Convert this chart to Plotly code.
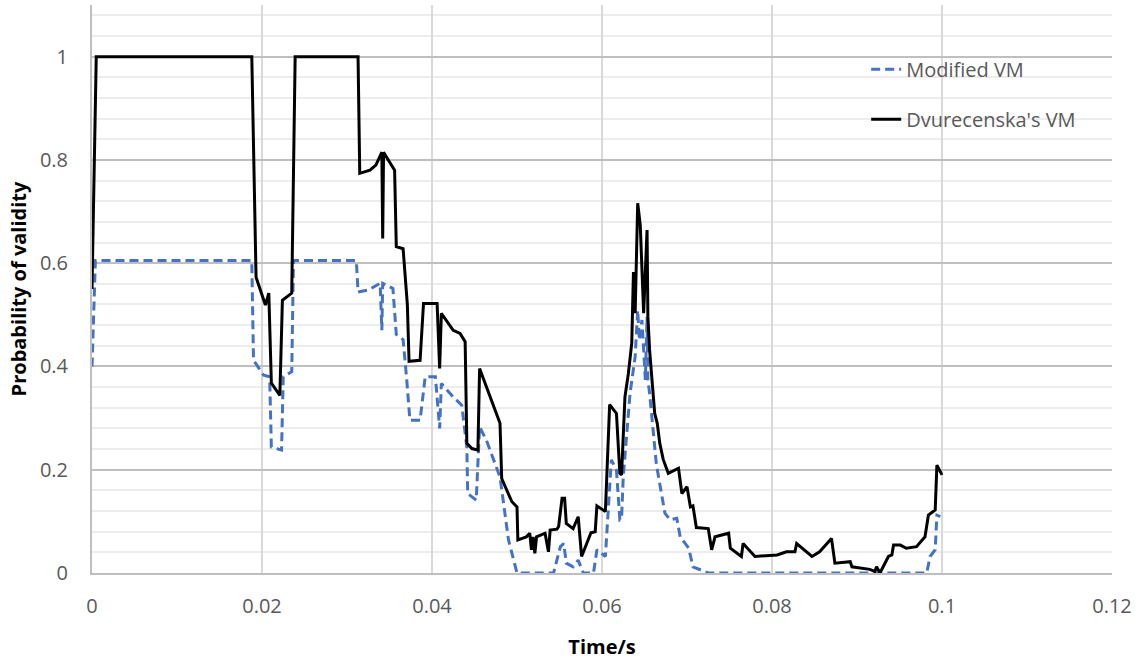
import plotly.graph_objects as go

# Dvurecenska's VM (solid black)
dv_t = [0.0, 0.0005, 0.0188, 0.0193, 0.0204, 0.0208, 0.0211, 0.0221, 0.0224, 0.0235,
        0.0239, 0.0313, 0.0315, 0.0327, 0.0334, 0.0341, 0.0342, 0.0343, 0.0356, 0.0358,
        0.0366, 0.0371, 0.0373, 0.0386, 0.0390, 0.0406, 0.0409, 0.0411, 0.0425, 0.0433,
        0.0439, 0.0441, 0.0447, 0.0454, 0.0456, 0.0466, 0.0480, 0.0482, 0.0494, 0.0500,
        0.0501, 0.0511, 0.0515, 0.0517, 0.0519, 0.0521, 0.0523, 0.0533, 0.0537, 0.0539,
        0.0547, 0.0549, 0.0553, 0.0556, 0.0558, 0.0566, 0.0572, 0.0576, 0.0587, 0.0592,
        0.0594, 0.0604, 0.0609, 0.0617, 0.0621, 0.0623, 0.0627, 0.0631, 0.0635, 0.0637,
        0.0639, 0.0642, 0.0645, 0.0649, 0.0653, 0.0654, 0.0656, 0.0659, 0.0662, 0.0665,
        0.0668, 0.0672, 0.0678, 0.0690, 0.0694, 0.0700, 0.0704, 0.0707, 0.0711, 0.0725,
        0.0729, 0.0733, 0.0749, 0.0751, 0.0764, 0.0766, 0.0780, 0.0806, 0.0817, 0.0827,
        0.0829, 0.0847, 0.0856, 0.0870, 0.0874, 0.0892, 0.0894, 0.0915, 0.0921, 0.0923,
        0.0927, 0.0937, 0.0941, 0.0943, 0.0951, 0.0958, 0.0970, 0.0980, 0.0984, 0.0992,
        0.0994, 0.1000]
dv_p = [0.55, 1.0, 1.0, 0.573, 0.519, 0.542, 0.368, 0.344, 0.528, 0.542,
        1.0, 1.0, 0.774, 0.78, 0.79, 0.815, 0.648, 0.815, 0.78, 0.632,
        0.628, 0.52, 0.41, 0.412, 0.522, 0.522, 0.396, 0.503, 0.47, 0.464,
        0.448, 0.251, 0.241, 0.238, 0.396, 0.351, 0.29, 0.183, 0.138, 0.128,
        0.064, 0.07, 0.077, 0.045, 0.07, 0.038, 0.07, 0.077, 0.041, 0.083,
        0.085, 0.09, 0.145, 0.145, 0.096, 0.086, 0.109, 0.032, 0.078, 0.08,
        0.13, 0.119, 0.326, 0.309, 0.193, 0.19, 0.341, 0.386, 0.445, 0.583,
        0.503, 0.716, 0.674, 0.503, 0.664, 0.496, 0.432, 0.37, 0.309, 0.29,
        0.251, 0.22, 0.193, 0.203, 0.154, 0.167, 0.128, 0.13, 0.088, 0.086,
        0.045, 0.07, 0.077, 0.048, 0.032, 0.057, 0.032, 0.035, 0.041, 0.041,
        0.057, 0.032, 0.041, 0.067, 0.019, 0.022, 0.012, 0.007, 0.003, 0.012,
        0.0, 0.032, 0.035, 0.054, 0.054, 0.048, 0.051, 0.07, 0.112, 0.122,
        0.209, 0.19]

# Modified VM (dashed blue)
mv_t = [0.0, 0.0004, 0.0188, 0.0190, 0.0202, 0.0209, 0.0211, 0.0223, 0.0225, 0.0235,
        0.0237, 0.0311, 0.0313, 0.0325, 0.0339, 0.0341, 0.0342, 0.0354, 0.0358, 0.0366,
        0.0370, 0.0374, 0.0386, 0.0392, 0.0404, 0.0409, 0.0411, 0.0425, 0.0435, 0.0441,
        0.0442, 0.0452, 0.0456, 0.0464, 0.0480, 0.0490, 0.0500, 0.0543, 0.0551, 0.0555,
        0.0558, 0.0566, 0.0572, 0.0578, 0.0590, 0.0594, 0.0604, 0.0607, 0.0611, 0.0617,
        0.0621, 0.0623, 0.0625, 0.0633, 0.0639, 0.0642, 0.0644, 0.0647, 0.0651, 0.0653,
        0.0654, 0.0656, 0.0664, 0.0674, 0.0680, 0.0688, 0.0692, 0.0702, 0.0707, 0.0725,
        0.0982, 0.0986, 0.0992, 0.0994, 0.0998]
mv_p = [0.40, 0.605, 0.605, 0.412, 0.383, 0.38, 0.244, 0.238, 0.38, 0.39,
        0.605, 0.605, 0.544, 0.548, 0.561, 0.47, 0.561, 0.551, 0.462, 0.452,
        0.38, 0.296, 0.296, 0.38, 0.38, 0.28, 0.367, 0.341, 0.325, 0.244,
        0.154, 0.141, 0.283, 0.257, 0.186, 0.064, 0.0, 0.0, 0.051, 0.057,
        0.019, 0.012, 0.025, 0.0, 0.0, 0.045, 0.032, 0.116, 0.219, 0.199,
        0.103, 0.105, 0.186, 0.348, 0.419, 0.509, 0.451, 0.49, 0.374, 0.496,
        0.374, 0.348, 0.21, 0.116, 0.103, 0.106, 0.07, 0.048, 0.012, 0.0,
        0.0, 0.032, 0.045, 0.112, 0.109]

x_ticks = [0, 0.02, 0.04, 0.06, 0.08, 0.1, 0.12]
x_tick_labels = ["0", "0.02", "0.04", "0.06", "0.08", "0.1", "0.12"]
y_ticks = [0, 0.2, 0.4, 0.6, 0.8, 1.0]
y_tick_labels = ["0", "0.2", "0.4", "0.6", "0.8", "1"]

FONT = "Open Sans"

fig = go.Figure()
fig.add_trace(go.Scatter(x=mv_t, y=mv_p, mode="lines", name="Modified VM",
                         legendgroup="a",
                         line=dict(color="#4472C4", width=3, dash="9px,5px")))
fig.add_trace(go.Scatter(x=dv_t, y=dv_p, mode="lines", name="Dvurecenska's VM",
                         legendgroup="b",
                         line=dict(color="#000000", width=3)))

fig.update_layout(
    width=1142, height=663,
    margin=dict(l=92, r=30, t=5, b=90),
    plot_bgcolor="white", paper_bgcolor="white",
    font=dict(family=FONT, size=20, color="#595959"),
    legend=dict(x=0.759, y=0.921, xanchor="left", yanchor="top",
                bgcolor="rgba(0,0,0,0)", tracegroupgap=21,
                font=dict(family=FONT, size=20, color="#595959")),
    xaxis=dict(range=[0, 0.12], tickvals=x_ticks, ticktext=x_tick_labels,
               showgrid=True, gridcolor="#D9D9D9", gridwidth=1.5,
               showline=True, linecolor="#BFBFBF", linewidth=2,
               zeroline=False, ticks="", ticklabelstandoff=14,
               title=dict(text="<b>Time/s</b>", standoff=22,
                          font=dict(family=FONT, size=20, color="#000000"))),
    yaxis=dict(range=[0, 1.1], tickvals=y_ticks, ticktext=y_tick_labels,
               showgrid=True, gridcolor="#BFBFBF", gridwidth=1.5,
               showline=True, linecolor="#BFBFBF", linewidth=2,
               zeroline=False, ticks="", ticklabelstandoff=18,
               minor=dict(dtick=0.04, tick0=0, showgrid=True,
                          gridcolor="#EDEDED", gridwidth=1.5),
               title=dict(text="<b>Probability of validity</b>", standoff=8,
                          font=dict(family=FONT, size=20, color="#000000"))),
)

fig.write_html("out.html",
               config={"displayModeBar": False},
               post_script="document.body.style.margin='0';document.body.style.overflow='hidden';")
